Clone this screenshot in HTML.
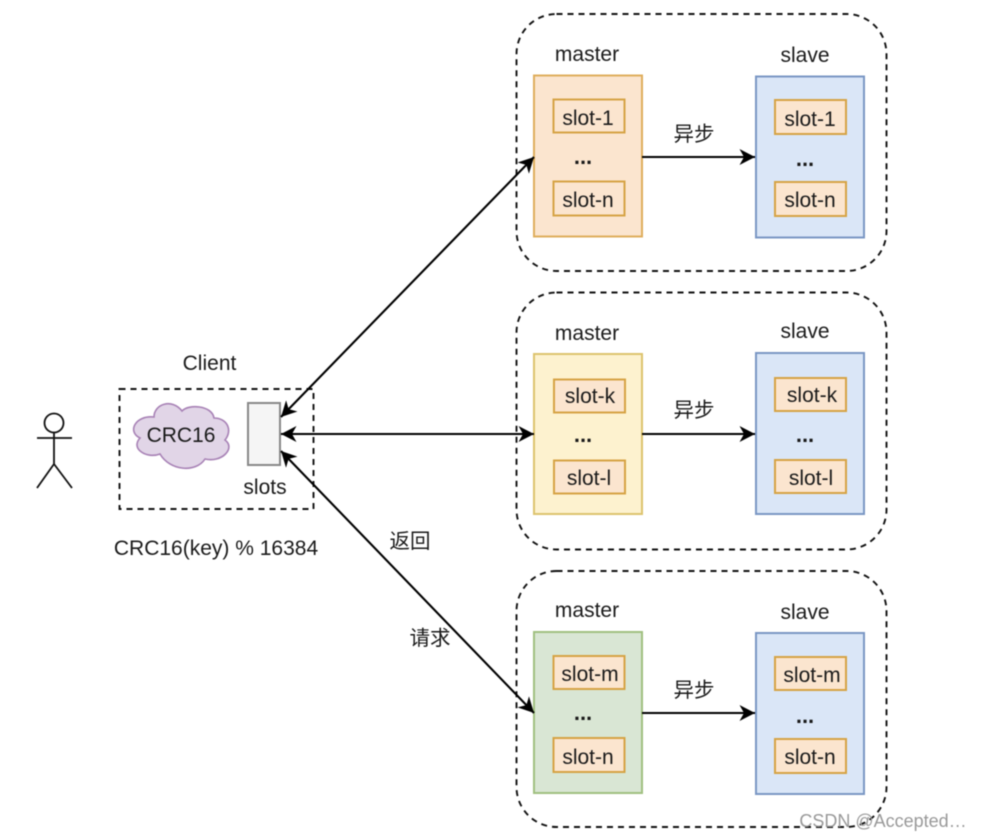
<!DOCTYPE html>
<html><head><meta charset="utf-8"><style>
html,body{margin:0;padding:0;background:#fff}
svg{display:block;filter:blur(0.45px)}
text{font-family:"Liberation Sans","Noto Sans CJK SC",sans-serif;font-size:21px;fill:#1a1a1a;text-anchor:middle}
.cn{font-size:20.5px}
.d{font-weight:bold;font-size:22px}
.g{fill:none;stroke:#111;stroke-width:1.9;stroke-dasharray:6 5}
.s{fill:#fbe5cf;stroke:#d6a344;stroke-width:2}
.b{fill:#dae6f7;stroke:#7a97c4;stroke-width:2}
.l{stroke:#000;stroke-width:2.1;fill:none}
</style></head><body>
<svg width="982" height="840" viewBox="0 0 982 840" xmlns="http://www.w3.org/2000/svg">
<defs>
<marker id="a" viewBox="0 0 16 16" refX="15.500" refY="8" markerWidth="16" markerHeight="16" markerUnits="userSpaceOnUse" orient="auto-start-reverse"><path d="M0 0 L15.500 8 L0 16 L4.500 8Z" fill="#000"/></marker>
</defs>

<rect class="g" x="516.500" y="14" width="370" height="257" rx="40"/>
<rect class="g" x="516.500" y="292.500" width="370" height="257" rx="40"/>
<rect class="g" x="516.500" y="571" width="370" height="256" rx="40"/>

<!-- group 1 -->
<rect x="534" y="75.500" width="108" height="161" fill="#fbe5cf" stroke="#dfae5c" stroke-width="2"/>
<rect class="b" x="756" y="76.500" width="108" height="161"/>
<rect class="s" x="553.500" y="99.500" width="71" height="33"/>
<rect class="s" x="553.500" y="181.500" width="71" height="34"/>
<rect class="s" x="775" y="100" width="71" height="34"/>
<rect class="s" x="775" y="182" width="71" height="34"/>
<text x="587" y="61">master</text><text x="805" y="62">slave</text>
<text x="588" y="125">slot-1</text><text x="588" y="207">slot-n</text>
<text x="810" y="126">slot-1</text><text x="810" y="207">slot-n</text>
<text class="d" x="583" y="164">...</text><text class="d" x="805" y="166">...</text>
<text class="cn" x="694" y="141">异步</text>
<line class="l" x1="642" y1="157" x2="755" y2="157" marker-end="url(#a)"/>

<!-- group 2 -->
<rect x="534" y="354" width="108" height="160" fill="#fdf2cf" stroke="#dcc36e" stroke-width="2"/>
<rect class="b" x="756" y="353" width="108" height="161"/>
<rect class="s" x="554" y="379.500" width="71" height="33"/>
<rect class="s" x="554" y="460.500" width="71" height="33"/>
<rect class="s" x="775" y="378" width="71" height="33"/>
<rect class="s" x="775" y="460" width="71" height="33"/>
<text x="587" y="340">master</text><text x="805" y="338">slave</text>
<text x="590" y="403">slot-k</text><text x="589" y="485">slot-l</text>
<text x="812" y="402">slot-k</text><text x="811" y="485">slot-l</text>
<text class="d" x="583" y="442">...</text><text class="d" x="805" y="442">...</text>
<text class="cn" x="694" y="417">异步</text>
<line class="l" x1="642" y1="434" x2="755" y2="434" marker-end="url(#a)"/>

<!-- group 3 -->
<rect x="534" y="632" width="108" height="161" fill="#d9e6d4" stroke="#a0c080" stroke-width="2"/>
<rect class="b" x="756" y="633" width="108" height="161"/>
<rect class="s" x="553.500" y="656" width="71" height="33"/>
<rect class="s" x="553.500" y="738" width="71" height="34"/>
<rect class="s" x="775" y="657" width="71" height="33"/>
<rect class="s" x="775" y="739" width="71" height="34"/>
<text x="587" y="617">master</text><text x="805" y="619">slave</text>
<text x="590" y="681">slot-m</text><text x="588" y="764">slot-n</text>
<text x="812" y="682">slot-m</text><text x="810" y="764">slot-n</text>
<text class="d" x="583" y="720">...</text><text class="d" x="805" y="723">...</text>
<text class="cn" x="694" y="697">异步</text>
<line class="l" x1="642" y1="713" x2="755" y2="713" marker-end="url(#a)"/>

<!-- client -->
<text x="209.500" y="370">Client</text>
<rect class="g" x="119.500" y="389" width="194" height="120" stroke-dasharray="5 5"/>
<path d="M154 417 C135 415 127 432 140 438 C130 449 147 459 160 454 C170 471 196 473 205 459 C222 463 236 448 225 440 C233 430 227 418 214 418 C212 405 188 404 182 411 C172 398 154 404 154 417Z" fill="#e1d5e7" stroke="#a781b5" stroke-width="1.600"/>
<text x="181" y="442">CRC16</text>
<rect x="248" y="403" width="32" height="62" fill="#f5f5f5" stroke="#888" stroke-width="2"/>
<text x="265" y="494">slots</text>
<text x="216" y="555">CRC16(key) % 16384</text>

<!-- person -->
<circle cx="54" cy="423" r="9.500" fill="none" stroke="#111" stroke-width="1.800"/>
<path d="M54 432.500V464M37 438H72M37 488L54 464L72 488" fill="none" stroke="#111" stroke-width="1.800"/>

<!-- double arrows -->
<line class="l" x1="281" y1="417" x2="534" y2="157" marker-start="url(#a)" marker-end="url(#a)"/>
<line class="l" x1="281" y1="434" x2="534" y2="434" marker-start="url(#a)" marker-end="url(#a)"/>
<line class="l" x1="281" y1="451" x2="534" y2="713" marker-start="url(#a)" marker-end="url(#a)"/>
<text class="cn" x="410" y="548">返回</text>
<text class="cn" x="430" y="645">请求</text>

<text x="883" y="827" style="fill:#999;font-size:18px">CSDN @Accepted…</text>
</svg>
</body></html>
